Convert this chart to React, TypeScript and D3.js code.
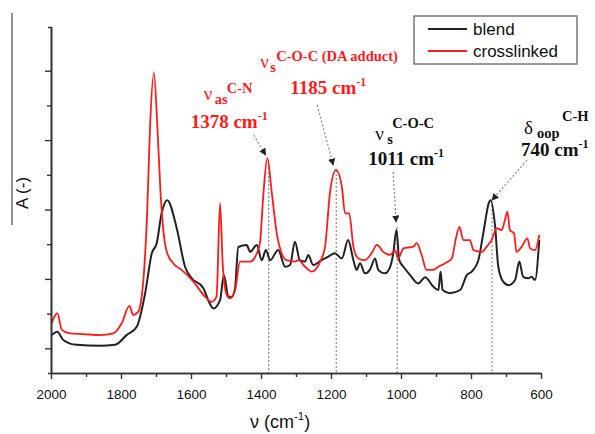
import React, { useEffect, useRef } from 'react';
import * as d3 from 'd3';

// spectra: wavenumber (cm-1) and absorbance (arb.)
const blendWn = [1998, 1982, 1965, 1927, 1860, 1817, 1784, 1755, 1731, 1712, 1698, 1684, 1668, 1641, 1617, 1598, 1565, 1551, 1536, 1517, 1506, 1493, 1483, 1474, 1465, 1441, 1431, 1412, 1398, 1386, 1374, 1351, 1331, 1317, 1303, 1289, 1274, 1265, 1251, 1227, 1208, 1189, 1169, 1151, 1136, 1127, 1117, 1103, 1089, 1074, 1065, 1046, 1031, 1022, 1013, 1005, 993, 974, 951, 931, 908, 893, 887, 881, 860, 831, 812, 798, 779, 765, 748, 744, 731, 722, 708, 693, 674, 662, 651, 636, 627, 617, 605];
const blendA = [0.138, 0.148, 0.124, 0.110, 0.107, 0.110, 0.138, 0.162, 0.259, 0.374, 0.403, 0.489, 0.527, 0.447, 0.335, 0.302, 0.274, 0.239, 0.215, 0.239, 0.311, 0.249, 0.248, 0.274, 0.392, 0.398, 0.378, 0.398, 0.354, 0.383, 0.354, 0.383, 0.335, 0.340, 0.407, 0.354, 0.350, 0.369, 0.340, 0.354, 0.364, 0.374, 0.359, 0.412, 0.354, 0.326, 0.345, 0.316, 0.326, 0.359, 0.326, 0.316, 0.335, 0.374, 0.441, 0.354, 0.335, 0.311, 0.287, 0.305, 0.278, 0.268, 0.321, 0.268, 0.259, 0.268, 0.311, 0.321, 0.354, 0.431, 0.522, 0.527, 0.450, 0.335, 0.292, 0.282, 0.297, 0.350, 0.306, 0.302, 0.306, 0.297, 0.412];

const crossWn = [1998, 1982, 1969, 1946, 1908, 1860, 1822, 1798, 1776, 1765, 1751, 1736, 1725, 1717, 1706, 1696, 1687, 1677, 1668, 1646, 1627, 1593, 1560, 1541, 1527, 1517, 1509, 1498, 1489, 1474, 1460, 1446, 1431, 1412, 1403, 1393, 1382, 1369, 1355, 1341, 1327, 1303, 1293, 1274, 1255, 1231, 1217, 1203, 1186, 1169, 1160, 1148, 1136, 1122, 1103, 1084, 1069, 1051, 1031, 1017, 1008, 993, 965, 955, 941, 927, 908, 893, 874, 855, 843, 833, 822, 803, 793, 769, 755, 741, 727, 712, 703, 696, 689, 677, 670, 655, 639, 631, 617, 605];
const crossA = [0.173, 0.201, 0.153, 0.143, 0.141, 0.138, 0.143, 0.172, 0.222, 0.196, 0.205, 0.297, 0.499, 0.739, 0.894, 0.739, 0.547, 0.422, 0.374, 0.340, 0.326, 0.292, 0.249, 0.234, 0.249, 0.518, 0.335, 0.254, 0.244, 0.268, 0.350, 0.350, 0.350, 0.374, 0.403, 0.547, 0.648, 0.547, 0.431, 0.374, 0.354, 0.350, 0.354, 0.335, 0.321, 0.350, 0.393, 0.547, 0.614, 0.566, 0.489, 0.489, 0.393, 0.359, 0.354, 0.374, 0.398, 0.378, 0.369, 0.383, 0.359, 0.388, 0.393, 0.403, 0.369, 0.326, 0.326, 0.335, 0.345, 0.359, 0.417, 0.450, 0.412, 0.412, 0.383, 0.378, 0.393, 0.412, 0.446, 0.441, 0.470, 0.494, 0.441, 0.431, 0.378, 0.393, 0.417, 0.388, 0.383, 0.427];

const xTicks = [2000, 1800, 1600, 1400, 1200, 1000, 800, 600];
const xMinorTicks = [1900, 1700, 1500, 1300, 1100, 900, 700];
const yTicks = [0.1, 0.3, 0.5, 0.7, 0.9];
const yMinorTicks = [0.2, 0.4, 0.6, 0.8];

const seriesNames = ['blend', 'crosslinked'];
const seriesColors = ['#222222', '#ff1a1a'];

// marked bands
const peakWn = [1378, 1185, 1011, 740];
const peakTipA = [0.657, 0.628, 0.464, 0.527];
const peakSym = ['ν', 'ν', 'ν', 'δ'];
const peakSub = ['as', 's', 's', 'oop'];
const peakSup = ['C-N', 'C-O-C (DA adduct)', 'C-O-C', 'C-H'];
const peakValue = ['1378', '1185', '1011', '740'];
const peakColor = ['#ff1a1a', '#ff1a1a', '#111111', '#111111'];

// label layout (pixels relative to the arrow tip)
const tipDx = [-3, -3, -1, 0];
const leaderFrom = [[-12, -20], [-16, -60], [-3, -50], [35, -40]];
const labelPos = [[-62, -55], [-73, -97], [-21, -82], [32, -66]];
const valuePos = [[-75, -27], [-43, -71], [-28, -57], [29, -44]];
const subDx = [11, 10, 12, 13];
const supDx = [23, 16, 17, 38];
const supDy = [-7, -7, -12, -13];

const W = 595;
const H = 434;
const left = 51;
const right = 541;
const top = 27;
const bottom = 373;

const x = d3.scaleLinear().domain([2000, 600]).range([left, right]);
const y = d3.scaleLinear().domain([0.0288, 1.026]).range([bottom, top]);

export default function App() {
  const axRef = useRef<SVGGElement>(null);

  useEffect(() => {
    const g = d3.select(axRef.current);
    g.selectAll('*').remove();

    const xa = g.append('g').attr('transform', `translate(0,${bottom})`)
      .call(d3.axisBottom(x).tickValues(xTicks).tickSize(6).tickSizeOuter(0).tickPadding(10).tickFormat(d3.format('d')));
    g.append('g').attr('transform', `translate(0,${bottom})`)
      .call(d3.axisBottom(x).tickValues(xMinorTicks).tickSize(4).tickSizeOuter(0).tickFormat(() => ''));
    g.append('g').attr('transform', `translate(${left},0)`)
      .call(d3.axisLeft(y).tickValues(yTicks).tickSize(6).tickSizeOuter(3).tickFormat(() => ''));
    g.append('g').attr('transform', `translate(${left},0)`)
      .call(d3.axisLeft(y).tickValues(yMinorTicks).tickSize(4).tickSizeOuter(0).tickFormat(() => ''));

    g.selectAll('path.domain').attr('stroke', '#333').attr('stroke-width', 1.6);
    g.selectAll('.tick line').attr('stroke', '#333').attr('stroke-width', 1.4);
    xa.selectAll('text')
      .attr('fill', '#111')
      .style('font-family', 'Liberation Sans, Arial, sans-serif')
      .style('font-size', '13.5px');
  }, []);

  const line = d3.line<[number, number]>()
    .x(d => x(d[0]))
    .y(d => y(d[1]))
    .curve(d3.curveMonotoneX);

  const blend = blendWn.map((w, i) => [w, blendA[i]] as [number, number]);
  const cross = crossWn.map((w, i) => [w, crossA[i]] as [number, number]);

  const serif = 'Liberation Serif, Times New Roman, serif';
  const sans = 'Liberation Sans, Arial, sans-serif';

  return (
    <svg width={W} height={H} style={{ position: 'absolute', left: 0, top: 0, background: '#fff' }}>
      <defs>
        <marker id="tip" viewBox="0 0 10 10" refX="9" refY="5" markerWidth="6" markerHeight="6" orient="auto">
          <path d="M0,0 L10,5 L0,10 z" fill="#222" />
        </marker>
      </defs>

      {/* stray y axis title bar */}
      <line x1={12} x2={12} y1={13} y2={225} stroke="#777" strokeWidth={1.6} />
      <text transform="translate(28,193) rotate(-90)" textAnchor="middle" fontFamily={sans} fontSize={17} fill="#111">A (-)</text>

      {/* drop lines */}
      {peakWn.map((w, i) => (
        <line key={'d' + i} x1={x(w)} x2={x(w)} y1={y(peakTipA[i]) + 5} y2={bottom}
          stroke="#888" strokeWidth={1.2} strokeDasharray="2,2" />
      ))}

      <path d={line(blend) || ''} fill="none" stroke={seriesColors[0]} strokeWidth={2} strokeLinejoin="round" />
      <path d={line(cross) || ''} fill="none" stroke={seriesColors[1]} strokeWidth={1.8} strokeLinejoin="round" />

      <g ref={axRef} />

      {/* leaders and labels */}
      {peakWn.map((w, i) => {
        const tx = x(w) + tipDx[i];
        const ty = y(peakTipA[i]);
        const lx = tx + labelPos[i][0];
        const ly = ty + labelPos[i][1];
        const vx = tx + valuePos[i][0];
        const vy = ty + valuePos[i][1];
        return (
          <g key={'a' + i} fontFamily={serif} fontWeight="bold" fill={peakColor[i]}>
            <line x1={tx + leaderFrom[i][0]} y1={ty + leaderFrom[i][1]} x2={tx} y2={ty}
              stroke="#888" strokeWidth={1.2} strokeDasharray="2,2" markerEnd="url(#tip)" />
            <text x={lx} y={ly} fontSize={19} fontWeight="normal">{peakSym[i]}</text>
            <text x={lx + subDx[i]} y={ly + 4} fontSize={14.5}>{peakSub[i]}</text>
            <text x={lx + supDx[i]} y={ly + supDy[i]} fontSize={14.5}>{peakSup[i]}</text>
            <text x={vx} y={vy} fontSize={19}>
              {peakValue[i]} cm<tspan fontSize={12} dy={-8}>-1</tspan>
            </text>
          </g>
        );
      })}

      {/* legend */}
      <rect x={414} y={16} width={163} height={48} fill="#fff" stroke="#777" strokeWidth={1.5} />
      {seriesNames.map((s, i) => (
        <g key={s}>
          <line x1={428} x2={467} y1={29 + i * 22} y2={29 + i * 22} stroke={seriesColors[i]} strokeWidth={2} />
          <text x={473} y={35 + i * 22} fontFamily={sans} fontSize={17} fill="#111">{s}</text>
        </g>
      ))}

      <text x={250} y={428} fontFamily={sans} fontSize={18} fill="#111">
        ν (cm<tspan fontSize={11.5} dy={-8}>-1</tspan><tspan dy={8}>)</tspan>
      </text>
    </svg>
  );
}
